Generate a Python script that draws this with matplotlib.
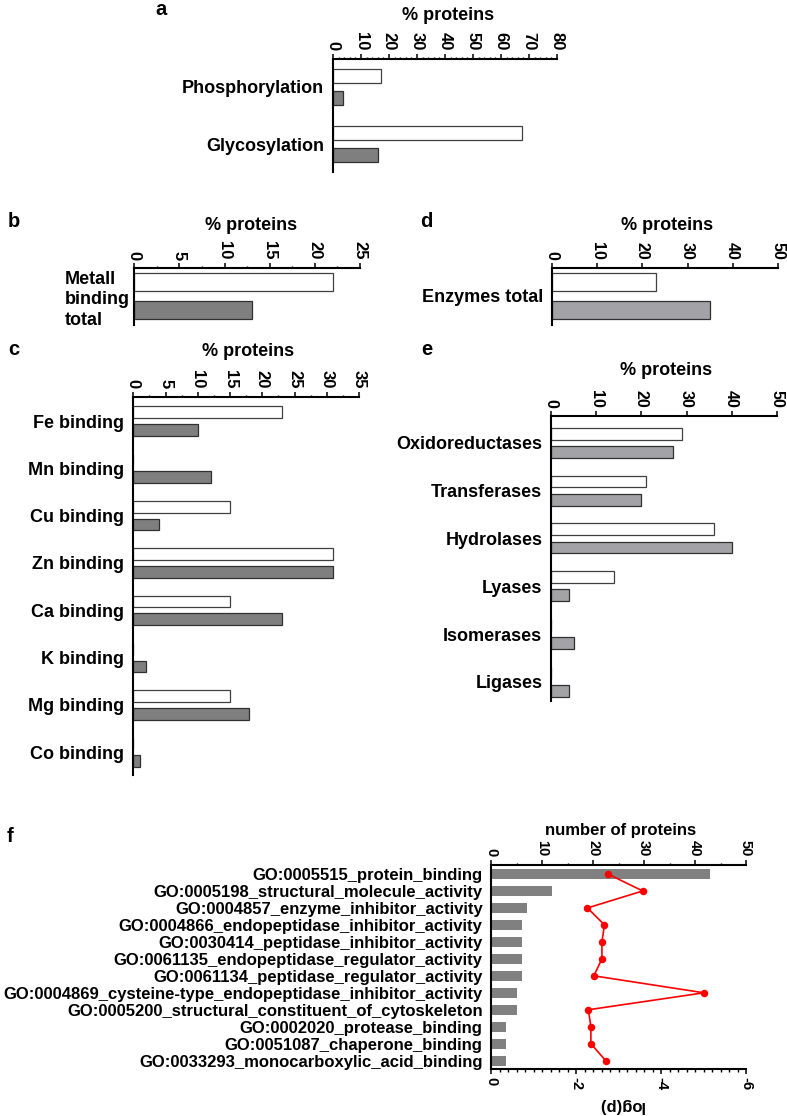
import numpy as np
import matplotlib
matplotlib.use("Agg")
import matplotlib.pyplot as plt
from matplotlib.ticker import MultipleLocator

plt.rcParams['font.family'] = ['Liberation Sans', 'DejaVu Sans']
plt.rcParams['font.weight'] = 'bold'
plt.rcParams['axes.unicode_minus'] = False

W, H = 787, 1116

# ---- data ----
mod_labels = ["Phosphorylation", "Glycosylation"]
mod_white = [17, 67.5]
mod_gray = [3.5, 16]

metal_total_labels = ["Metall\nbinding\ntotal"]
metal_total_white = [22]
metal_total_gray = [13]

metal_labels = ["Fe binding", "Mn binding", "Cu binding", "Zn binding",
                "Ca binding", "K binding", "Mg binding", "Co binding"]
metal_white = [23, 0, 15, 31, 15, 0, 15, 0]
metal_gray = [10, 12, 4, 31, 23, 2, 18, 1]

enz_total_labels = ["Enzymes total"]
enz_total_white = [23]
enz_total_gray = [35]

enz_labels = ["Oxidoreductases", "Transferases", "Hydrolases", "Lyases",
              "Isomerases", "Ligases"]
enz_white = [29, 21, 36, 14, 0, 0]
enz_gray = [27, 20, 40, 4, 5, 4]

go_labels = ["GO:0005515_protein_binding",
             "GO:0005198_structural_molecule_activity",
             "GO:0004857_enzyme_inhibitor_activity",
             "GO:0004866_endopeptidase_inhibitor_activity",
             "GO:0030414_peptidase_inhibitor_activity",
             "GO:0061135_endopeptidase_regulator_activity",
             "GO:0061134_peptidase_regulator_activity",
             "GO:0004869_cysteine-type_endopeptidase_inhibitor_activity",
             "GO:0005200_structural_constituent_of_cytoskeleton",
             "GO:0002020_protease_binding",
             "GO:0051087_chaperone_binding",
             "GO:0033293_monocarboxylic_acid_binding"]
go_counts = [43, 12, 7, 6, 6, 6, 6, 5, 5, 3, 3, 3]
go_logp = [-2.75, -3.57, -2.27, -2.67, -2.61, -2.61, -2.42, -5.01, -2.29, -2.35, -2.35, -2.70]

metal_gray_col = '#7f7f7f'
enz_gray_col = '#a2a2a7'

fig = plt.figure(figsize=(W / 100, H / 100), dpi=100)


def px_axes(left, top, right, bottom):
    return fig.add_axes([left / W, 1 - bottom / H, (right - left) / W, (bottom - top) / H])


def style_top(ax, xmax, major, minor, fs):
    ax.set_xlim(0, xmax)
    ax.xaxis.tick_top()
    ax.xaxis.set_major_locator(MultipleLocator(major))
    if minor:
        ax.xaxis.set_minor_locator(MultipleLocator(minor))
    ax.tick_params(axis='x', which='major', length=3.6, width=1.1, pad=2.5,
                   labelsize=fs, labelrotation=-90)
    ax.tick_params(axis='x', which='minor', length=1.8, width=1.0)
    ax.tick_params(axis='y', length=0, pad=6.5, labelsize=13)
    for s in ['right', 'bottom']:
        ax.spines[s].set_visible(False)
    for s in ['top', 'left']:
        ax.spines[s].set_linewidth(1.5)


def grouped(ax, labels, white, gray, gcol, h, off, ylim):
    y = np.arange(len(labels))
    ax.barh(y - off, white, height=h, color='white', edgecolor='#404040', linewidth=0.9)
    ax.barh(y + off, gray, height=h, color=gcol, edgecolor='#303030', linewidth=0.9)
    ax.set_yticks(y, labels)
    ax.set_ylim(*ylim)


# a
ax_a = px_axes(333, 59, 557, 172)
grouped(ax_a, mod_labels, mod_white, mod_gray, metal_gray_col, 0.245, 0.193, (1.49, -0.49))
style_top(ax_a, 80, 10, 2, 12)

# b
ax_b = px_axes(134.3, 268.3, 360, 325)
grouped(ax_b, metal_total_labels, metal_total_white, metal_total_gray, metal_gray_col,
        0.37, 0.28, (0.58, -0.554))
style_top(ax_b, 25, 5, 2.5, 12)
ax_b.tick_params(axis='y', pad=3)
for t in ax_b.get_yticklabels():
    t.set_multialignment('left')
    t.set_linespacing(1.28)

# d
ax_d = px_axes(552.3, 268.3, 777.7, 325)
grouped(ax_d, enz_total_labels, enz_total_white, enz_total_gray, enz_gray_col,
        0.37, 0.28, (0.58, -0.554))
style_top(ax_d, 50, 10, None, 11.5)

# c
ax_c = px_axes(133.3, 396.7, 359, 775)
grouped(ax_c, metal_labels, metal_white, metal_gray, metal_gray_col, 0.247, 0.187, (7.48, -0.514))
style_top(ax_c, 35, 5, 2.5, 12)

# e
ax_e = px_axes(551.3, 416, 776.7, 701)
grouped(ax_e, enz_labels, enz_white, enz_gray, enz_gray_col, 0.25, 0.19, (5.4, -0.56))
style_top(ax_e, 50, 10, None, 11.5)

# f
ax_f = px_axes(491, 865, 746, 1069)
ax_f2 = ax_f.twiny()
yf = np.arange(len(go_labels))
ax_f.barh(yf, go_counts, height=0.6, color='#808080')
ax_f.set_yticks(yf, go_labels)
ax_f.set_ylim(11.49, -0.53)
style_top(ax_f, 50, 10, 5, 10.5)
ax_f.tick_params(axis='y', labelsize=11.95, pad=6)

ax_f2.plot(go_logp, yf, color='#ff0000', lw=1.2, marker='o', ms=4.4)
ax_f2.set_xlim(0, -6)
ax_f2.xaxis.tick_bottom()
ax_f2.xaxis.set_major_locator(MultipleLocator(2))
ax_f2.xaxis.set_minor_locator(MultipleLocator(0.2))
ax_f2.tick_params(axis='x', which='major', length=3.6, width=1.1, pad=2.5,
                  labelsize=10.5, labelrotation=-90)
ax_f2.tick_params(axis='x', which='minor', length=1.8, width=1.0)
for s in ['top', 'right', 'left']:
    ax_f2.spines[s].set_visible(False)
ax_f2.spines['bottom'].set_linewidth(1.5)
ax_f2.set_ylim(11.49, -0.53)


def ftext(x, y, s, **kw):
    fig.text(x / W, 1 - y / H, s, **kw)


# axis titles
for x, y in [(448, 15), (250.8, 225), (666.7, 225), (248.3, 352), (666.3, 370)]:
    ftext(x, y, "% proteins", ha='center', va='center', fontsize=13)
ftext(620.5, 831, "number of proteins", ha='center', va='center', fontsize=12)
ftext(621, 1106, "log(p)", ha='center', va='center', fontsize=12, rotation=180)

# panel letters
for x, y, s in [(155, 15, 'a'), (8, 226.7, 'b'), (420, 226.7, 'd'), (8, 355, 'c'),
                (421.7, 355, 'e'), (7, 841.7, 'f')]:
    ftext(x, y, s, ha='left', va='baseline', fontsize=14.5)

fig.savefig('out.png', dpi=100)
